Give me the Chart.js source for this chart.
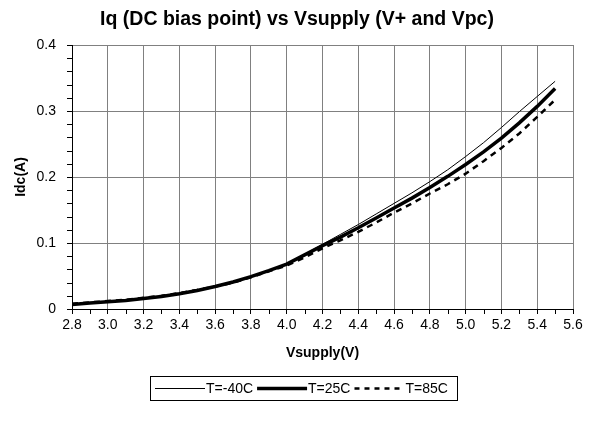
<!DOCTYPE html>
<html>
<head>
<meta charset="utf-8">
<script src="https://cdn.jsdelivr.net/npm/chart.js@4/dist/chart.umd.min.js"></script>
<style>
html,body{margin:0;padding:0;background:#fff;}
#wrap{position:relative;width:591px;height:430px;}
</style>
</head>
<body>
<div id="wrap"><canvas id="c" width="591" height="430"></canvas></div>
<script>
// ---- data ----
const voltages = [2.8,2.9,3.0,3.1,3.2,3.3,3.4,3.5,3.6,3.7,3.8,3.9,4.0,4.1,4.2,4.3,4.4,4.5,4.6,4.7,4.8,4.9,5.0,5.1,5.2,5.3,5.4,5.5];
const tMinus40 = [0.007,0.009,0.011,0.013,0.016,0.019,0.024,0.029,0.034,0.041,0.049,0.058,0.069,0.083,0.098,0.113,0.128,0.144,0.160,0.176,0.193,0.211,0.231,0.252,0.275,0.299,0.322,0.345];
const t25 = [0.007,0.009,0.011,0.013,0.016,0.019,0.023,0.028,0.034,0.041,0.049,0.058,0.068,0.082,0.096,0.109,0.123,0.138,0.153,0.168,0.184,0.201,0.219,0.238,0.259,0.282,0.307,0.334];
const t85 = [0.008,0.010,0.012,0.014,0.017,0.020,0.024,0.029,0.034,0.040,0.048,0.057,0.066,0.078,0.092,0.104,0.117,0.131,0.146,0.160,0.175,0.189,0.205,0.224,0.244,0.266,0.291,0.317];
const seriesNames = ['T=-40C','T=25C','T=85C'];
const xTicks = [2.8,3.0,3.2,3.4,3.6,3.8,4.0,4.2,4.4,4.6,4.8,5.0,5.2,5.4,5.6];
const yTicks = [0,0.1,0.2,0.3,0.4];
const chartTitle = 'Iq (DC bias point) vs Vsupply (V+ and Vpc)';
const xTitle = 'Vsupply(V)';
const yTitle = 'Idc(A)';

const pts = arr => voltages.map((v,i)=>({x:v,y:arr[i]}));
const FONT = '"Liberation Sans", Arial, sans-serif';

const styles = [
  {borderWidth:1, borderDash:[]},
  {borderWidth:3.5, borderDash:[]},
  {borderWidth:2.5, borderDash:[6,5]}
];

const extras = {
  id:'extras',
  afterDraw(chart){
    const ctx = chart.ctx;
    const xs = chart.scales.x, ys = chart.scales.y;
    const ca = chart.chartArea;
    ctx.save();
    // minor ticks
    ctx.strokeStyle = '#000'; ctx.lineWidth = 1;
    ctx.beginPath();
    for (let i=0;i<xTicks.length-1;i++){
      const v = (xTicks[i]+xTicks[i+1])/2;
      const px = Math.round(xs.getPixelForValue(v))+0.5;
      ctx.moveTo(px, ca.bottom); ctx.lineTo(px, ca.bottom+5);
    }
    for (let i=0;i<yTicks.length-1;i++){
      for (let k=1;k<5;k++){
        const v = yTicks[i] + (yTicks[i+1]-yTicks[i])*k/5;
        const py = Math.round(ys.getPixelForValue(v))+0.5;
        ctx.moveTo(ca.left-5, py); ctx.lineTo(ca.left, py);
      }
    }
    ctx.stroke();
    // titles
    ctx.fillStyle = '#000';
    ctx.textAlign = 'center'; ctx.textBaseline = 'alphabetic';
    ctx.font = 'bold 19.5px ' + FONT;
    ctx.fillText(chartTitle, 297, 25);
    ctx.textBaseline = 'middle';
    ctx.font = 'bold 14px ' + FONT;
    ctx.fillText(xTitle, (ca.left+ca.right)/2, 353);
    ctx.save();
    ctx.translate(21, (ca.top+ca.bottom)/2);
    ctx.rotate(-Math.PI/2);
    ctx.fillText(yTitle, 0, 0);
    ctx.restore();
    // legend
    const lx = 150, ly = 376, lw = 307, lh = 24;
    ctx.lineWidth = 1; ctx.strokeStyle = '#000';
    ctx.strokeRect(lx+0.5, ly+0.5, lw, lh);
    ctx.font = '14px ' + FONT;
    ctx.textAlign = 'left';
    const cy = ly + lh/2 + 0.5;
    let x = lx + 5;
    chart.data.datasets.forEach((ds,i)=>{
      ctx.beginPath();
      ctx.lineWidth = ds.borderWidth;
      ctx.setLineDash(i===2 ? [5,5] : []);
      ctx.moveTo(x, cy); ctx.lineTo(x+50, cy);
      ctx.stroke();
      ctx.setLineDash([]);
      ctx.fillText(ds.label, x+51, cy+1);
      x += 51 + ctx.measureText(ds.label).width + 4;
    });
    ctx.restore();
  }
};

new Chart(document.getElementById('c'), {
  type:'line',
  data:{
    datasets:[
      {label:seriesNames[0], data:pts(tMinus40), borderColor:'#000', ...styles[0]},
      {label:seriesNames[1], data:pts(t25), borderColor:'#000', ...styles[1]},
      {label:seriesNames[2], data:pts(t85), borderColor:'#000', ...styles[2]}
    ]
  },
  options:{
    responsive:false, animation:false,
    devicePixelRatio:1,
    elements:{point:{radius:0}, line:{tension:0, borderCapStyle:'butt'}},
    layout:{padding:{left:0,right:18,top:45,bottom:0}},
    plugins:{legend:{display:false}, title:{display:false}, tooltip:{enabled:false}},
    scales:{
      x:{
        type:'linear', min:2.8, max:5.6,
        afterBuildTicks(s){ s.ticks = xTicks.map(v=>({value:v})); },
        afterFit(s){ s.height = 121; },
        ticks:{font:{family:FONT,size:14}, color:'#000', padding:3, maxRotation:0, autoSkip:false,
          callback:v=>Number(v).toFixed(1)},
        grid:{color:'#808080', lineWidth:1, tickLength:5, tickColor:'#000'},
        border:{color:'#000', width:1}
      },
      y:{
        type:'linear', min:0, max:0.4,
        afterBuildTicks(s){ s.ticks = yTicks.map(v=>({value:v})); },
        afterFit(s){ s.width = 72; },
        ticks:{font:{family:FONT,size:14}, color:'#000', padding:11,
          callback:v=>String(Math.round(v*10)/10)},
        grid:{color:'#808080', lineWidth:1, tickLength:5, tickColor:'#000'},
        border:{color:'#000', width:1}
      }
    }
  },
  plugins:[extras]
});
</script>
</body>
</html>
